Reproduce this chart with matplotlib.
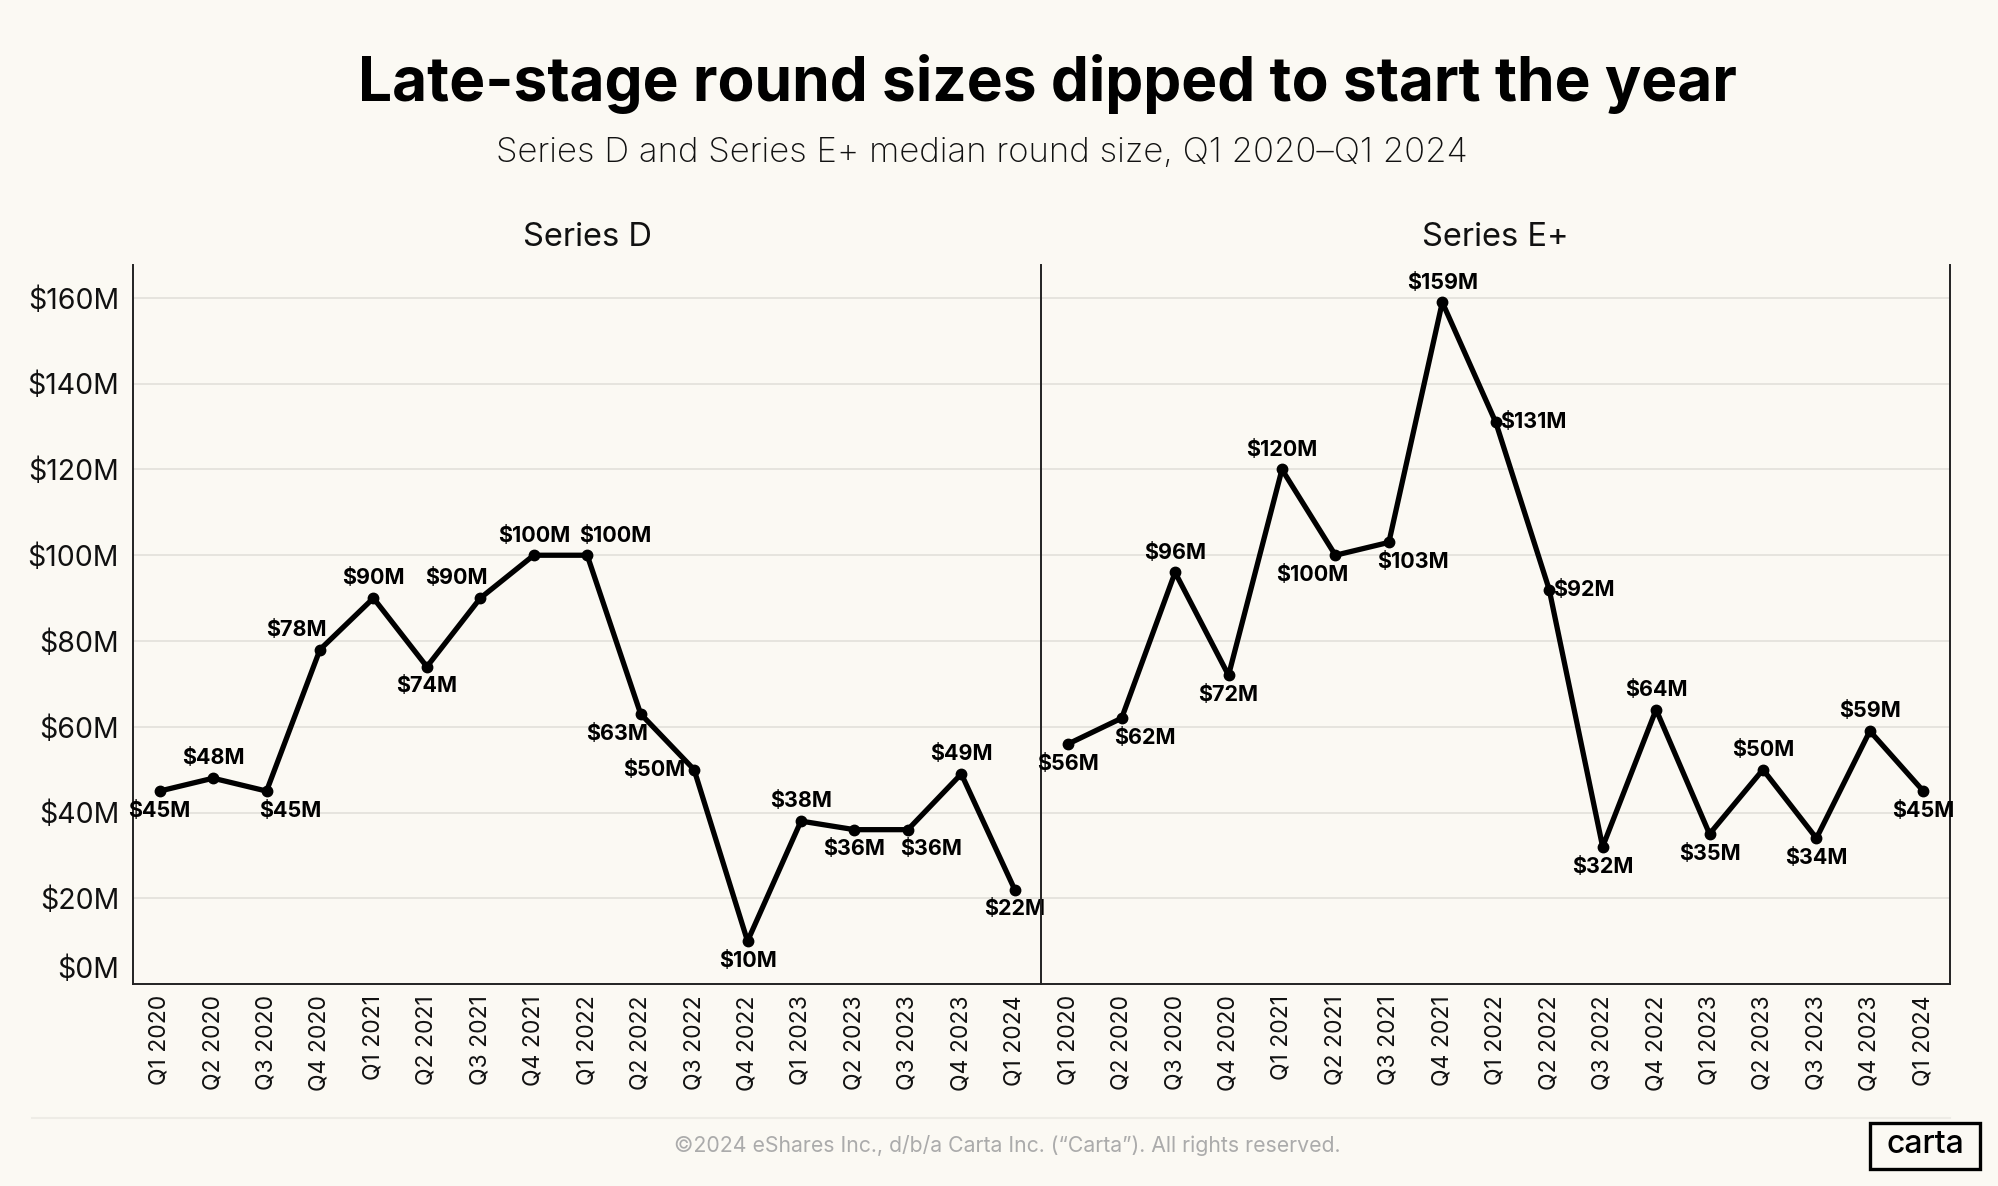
import matplotlib
matplotlib.use("Agg")
import matplotlib.pyplot as plt
from matplotlib.patches import Rectangle

plt.rcParams['font.family'] = ['Inter', 'DejaVu Sans']

# datos
trimestres = ["Q1 2020", "Q2 2020", "Q3 2020", "Q4 2020",
              "Q1 2021", "Q2 2021", "Q3 2021", "Q4 2021",
              "Q1 2022", "Q2 2022", "Q3 2022", "Q4 2022",
              "Q1 2023", "Q2 2023", "Q3 2023", "Q4 2023", "Q1 2024"]
serie_d = [45, 48, 45, 78, 90, 74, 90, 100, 100, 63, 50, 10, 38, 36, 36, 49, 22]
serie_e = [56, 62, 96, 72, 120, 100, 103, 159, 131, 92, 32, 64, 35, 50, 34, 59, 45]
ticks_y = [0, 20, 40, 60, 80, 100, 120, 140, 160]

# donde va cada etiqueta respecto al punto
pos_d = ['b', 'a', 'br', 'al', 'a', 'b', 'al', 'a', 'ar', 'bl', 'l', 'b', 'a', 'b', 'br', 'a', 'b']
pos_e = ['b', 'br', 'a', 'b', 'a', 'bl', 'br', 'a', 'r', 'r', 'b', 'a', 'b', 'a', 'b', 'a', 'b']

offsets = {
    'a': (0, 7, 'center', 'bottom'),
    'b': (0, -7, 'center', 'top'),
    'r': (3, 0, 'left', 'center'),
    'l': (-6, 0, 'right', 'center'),
    'al': (-17, 7, 'center', 'bottom'),
    'ar': (20, 7, 'center', 'bottom'),
    'bl': (-17, -7, 'center', 'top'),
    'br': (17, -7, 'center', 'top'),
}

fondo = '#FBF9F3'
fig = plt.figure(figsize=(19.99, 11.86), dpi=100, facecolor=fondo)

izq, div, der = 0.0665, 0.521, 0.9755
abajo, arriba = 0.1703, 0.7766
ax1 = fig.add_axes([izq, abajo, div - izq, arriba - abajo])
ax2 = fig.add_axes([div, abajo, der - div, arriba - abajo], sharey=ax1)


def dibujar(ax, valores, posiciones, titulo):
    x = list(range(len(trimestres)))
    ax.patch.set_visible(False)  # el fondo lo pone la figura, asi no tapa etiquetas
    ax.plot(x, valores, color='black', lw=3.8, marker='o', ms=7.5, zorder=3,
            solid_joinstyle='round')
    for i, v in enumerate(valores):
        dx, dy, ha, va = offsets[posiciones[i]]
        ax.annotate(f"${v}M", (i, v), xytext=(dx, dy), textcoords='offset points',
                    ha=ha, va=va, fontsize=15.5, fontweight='bold', color='black',
                    zorder=5)
    ax.set_xlim(-0.5, len(trimestres) - 0.5)
    ax.set_ylim(0, 167.7)
    ax.set_xticks(x)
    ax.set_xticklabels(trimestres, rotation=90, fontsize=16.5, color='#111111')
    ax.tick_params(axis='x', length=0, pad=8)
    ax.set_yticks(ticks_y)
    ax.yaxis.grid(True, color='#E4E2DC', lw=1.3)
    ax.set_axisbelow(True)
    ax.spines['top'].set_visible(False)
    for s in ['left', 'right', 'bottom']:
        ax.spines[s].set_color('#222222')
        ax.spines[s].set_linewidth(1.4)
    ax.set_title(titulo, fontsize=23.5, pad=14, color='#111111')


dibujar(ax1, serie_d, pos_d, "Series D")
dibujar(ax2, serie_e, pos_e, "Series E+")

ax1.spines['right'].set_visible(False)
ax1.set_yticklabels([f"${t}M" for t in ticks_y], fontsize=20.5, color='#111111')
ax1.tick_params(axis='y', length=0, pad=10)
ax1.get_yticklabels()[0].set_verticalalignment('bottom')
ax2.tick_params(axis='y', length=0, labelleft=False)

fig.text(0.524, 0.929, "Late-stage round sizes dipped to start the year",
         ha='center', va='center', fontsize=43.5, fontweight='bold', color='black')
fig.text(0.491, 0.871, "Series D and Series E+ median round size, Q1 2020\u2013Q1 2024",
         ha='center', va='center', fontsize=25, fontweight='light', color='#111111')

# pie de pagina
fig.add_artist(plt.Line2D([0.016, 0.9755], [0.057, 0.057], color='#EEECE6', lw=1.5))
fig.text(0.504, 0.034, "\u00a92024 eShares Inc., d/b/a Carta Inc. (\u201cCarta\u201d). All rights reserved.",
         ha='center', va='center', fontsize=15.3, color='#ABABAB')
fig.add_artist(Rectangle((0.9355, 0.0145), 0.055, 0.039, transform=fig.transFigure,
                         fill=False, edgecolor='black', lw=2.4))
fig.text(0.963, 0.035, "carta", ha='center', va='center', fontsize=23,
         fontweight='medium', color='black')

plt.savefig('out.png', dpi=100, facecolor=fondo)
plt.close()
